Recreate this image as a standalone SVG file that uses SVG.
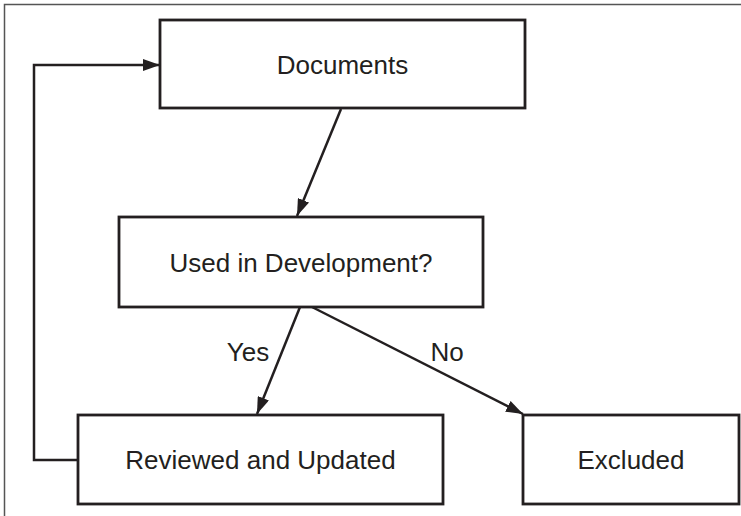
<svg xmlns="http://www.w3.org/2000/svg" width="741" height="516" viewBox="0 0 741 516">
<style>
.node rect{fill:#fff;stroke:#231f20;stroke-width:2.8}
.node text{font-family:"Liberation Sans",Arial,sans-serif;font-size:26px;fill:#231f20;text-anchor:middle}
.edge{fill:none;stroke:#231f20;stroke-width:2.5;marker-end:url(#ah)}
.lbl{font-family:"Liberation Sans",Arial,sans-serif;font-size:26px;fill:#231f20;text-anchor:middle}
</style>
<defs>
<marker id="ah" markerUnits="userSpaceOnUse" markerWidth="18" markerHeight="12" refX="17" refY="6" orient="auto">
<path d="M0,0 L17,6 L0,12 z" fill="#231f20"/>
</marker>
</defs>
<rect x="0" y="0" width="741" height="516" fill="#fff"/>
<path d="M4.5,520 V4.5 H745" fill="none" stroke="#555" stroke-width="1.5"/>
<g id="connectors">
<path class="edge" d="M78,460 H34 V65 H160"/>
<path class="edge" d="M341,109 L297,216"/>
<path class="edge" d="M300,307 L257,414"/>
<path class="edge" d="M312,307 L523,414"/>
<text class="lbl" x="248" y="361">Yes</text>
<text class="lbl" x="447" y="361">No</text>
</g>
<g id="documents" class="node">
<rect x="160" y="20" width="365" height="88"/>
<text x="342.5" y="74">Documents</text>
</g>
<g id="used" class="node">
<rect x="119" y="217" width="364" height="90"/>
<text x="301" y="271.5">Used in Development?</text>
</g>
<g id="reviewed" class="node">
<rect x="78" y="415" width="365" height="89"/>
<text x="260.5" y="469">Reviewed and Updated</text>
</g>
<g id="excluded" class="node">
<rect x="523" y="415" width="216" height="89"/>
<text x="631" y="469">Excluded</text>
</g>
</svg>
